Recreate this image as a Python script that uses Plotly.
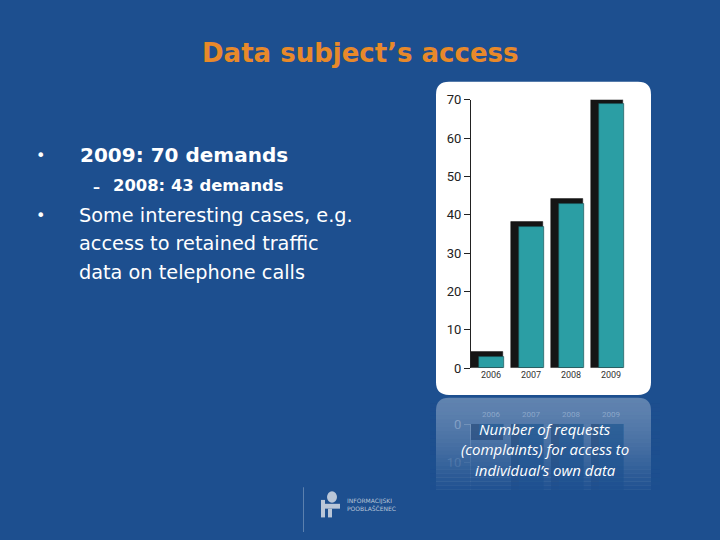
import plotly.graph_objects as go

# ---------------- data ----------------
years = ["2006", "2007", "2008", "2009"]
requests = [3, 37, 43, 69]
y_ticks = [0, 10, 20, 30, 40, 50, 60, 70]
refl_ticks = [0, 10, 20]

title_text = "Data subject’s access"
bullet_main = "2009: 70 demands"
bullet_sub = "2008: 43 demands"
bullet_2 = ["Some interesting cases, e.g.",
            "access to retained traffic",
            "data on telephone calls"]
caption_lines = ["Number of requests",
                 "(complaints) for access to",
                 "individual’s own data"]
logo_lines = ["INFORMACIJSKI", "POOBLAŠČENEC"]

# ---------------- helpers ----------------
W, H = 720, 540
BG = "#1d4f8f"
TEAL = "#2b9ea4"
DEPTH = 1.3


def px(x):
    return x / W


def py(y):
    return 1 - y / H


def rounded_path(x0, y0, x1, y1, r, top=True, bottom=True):
    X0, X1 = px(x0), px(x1)
    Y0, Y1 = py(y0), py(y1)
    rx, ry = r / W, r / H
    p = []
    if top:
        p.append(f"M {X0+rx},{Y0} L {X1-rx},{Y0} Q {X1},{Y0} {X1},{Y0-ry}")
    else:
        p.append(f"M {X0},{Y0} L {X1},{Y0}")
    if bottom:
        p.append(f"L {X1},{Y1+ry} Q {X1},{Y1} {X1-rx},{Y1} L {X0+rx},{Y1} Q {X0},{Y1} {X0},{Y1+ry}")
    else:
        p.append(f"L {X1},{Y1} L {X0},{Y1}")
    if top:
        p.append(f"L {X0},{Y0-ry} Q {X0},{Y0} {X0+rx},{Y0} Z")
    else:
        p.append("Z")
    return " ".join(p)


fig = go.Figure()

side_vals = [v + DEPTH for v in requests]

# main bars: dark side (depth) + teal front
fig.add_trace(go.Bar(x=years, y=side_vals, offset=-0.5, width=0.8,
                     marker=dict(color="#151515", line=dict(color="#111", width=0.5)),
                     cliponaxis=False, hoverinfo="skip", showlegend=False))
fig.add_trace(go.Bar(x=years, y=requests, offset=-0.29, width=0.62,
                     marker=dict(color=TEAL, line=dict(color="#1a4f52", width=0.6)),
                     cliponaxis=False, showlegend=False))

# reflection
fig.add_trace(go.Bar(x=years, y=side_vals, offset=-0.5, width=0.8, xaxis="x2", yaxis="y2",
                     marker=dict(color="#0f2f5a", line=dict(width=0)), opacity=0.45,
                     hoverinfo="skip", showlegend=False))
fig.add_trace(go.Bar(x=years, y=requests, offset=-0.29, width=0.62, xaxis="x2", yaxis="y2",
                     marker=dict(color="#2f69a3", line=dict(width=0)), opacity=0.7,
                     hoverinfo="skip", showlegend=False))

shapes = []
# white chart panel
shapes.append(dict(type="path", xref="paper", yref="paper", layer="below",
                   path=rounded_path(436, 77, 651, 399, 13),
                   fillcolor="white", line=dict(width=0)))
# reflected panel
shapes.append(dict(type="path", xref="paper", yref="paper", layer="below",
                   path=rounded_path(436, 402, 651, 540, 13, top=True, bottom=False),
                   fillcolor="rgba(255,255,255,0.30)", line=dict(width=0)))
# fade of the reflection
n = 24
y_start, y_end = 404, 500
for i in range(n):
    ya = y_start + (y_end - y_start) * i / n
    yb = y_start + (y_end - y_start) * (i + 1) / n
    op = ((i + 1) / n) ** 1.4
    shapes.append(dict(type="rect", xref="paper", yref="paper", layer="above",
                       x0=px(430), x1=px(660), y0=py(yb), y1=py(ya),
                       fillcolor=BG, opacity=op, line=dict(width=0)))
shapes.append(dict(type="rect", xref="paper", yref="paper", layer="above",
                   x0=px(430), x1=px(660), y0=0, y1=py(500),
                   fillcolor=BG, line=dict(width=0)))
# logo divider line
shapes.append(dict(type="line", xref="paper", yref="paper", layer="above",
                   x0=px(303.5), x1=px(303.5), y0=0, y1=py(494),
                   line=dict(color="rgba(255,255,255,0.28)", width=1)))
# logo icon
shapes.append(dict(type="circle", xref="paper", yref="paper", layer="above",
                   x0=px(327), x1=px(337), y0=py(510), y1=py(498),
                   fillcolor="#b9c6d8", line=dict(width=0)))
shapes.append(dict(type="rect", xref="paper", yref="paper", layer="above",
                   x0=px(321), x1=px(325), y0=py(525), y1=py(507),
                   fillcolor="#b9c6d8", line=dict(width=0)))
shapes.append(dict(type="rect", xref="paper", yref="paper", layer="above",
                   x0=px(325), x1=px(340), y0=py(516), y1=py(511),
                   fillcolor="#b9c6d8", line=dict(width=0)))
shapes.append(dict(type="rect", xref="paper", yref="paper", layer="above",
                   x0=px(328), x1=px(332), y0=py(525), y1=py(516),
                   fillcolor="#b9c6d8", line=dict(width=0)))

ann = []
ann.append(dict(text=f"<b>{title_text}</b>", x=px(360), y=py(47), xref="paper", yref="paper",
                xanchor="center", yanchor="middle", showarrow=False,
                font=dict(family="DejaVu Sans", size=26, color="#e8892a")))
TXT = dict(family="DejaVu Sans", color="white")
ann.append(dict(text="•", x=px(34), y=py(153), xref="paper", yref="paper", xanchor="left",
                yanchor="middle", showarrow=False, font=dict(size=16, **TXT)))
ann.append(dict(text=f"<b>{bullet_main}</b>", x=px(78), y=py(152), xref="paper", yref="paper",
                xanchor="left", yanchor="middle", showarrow=False, font=dict(size=20, **TXT)))
ann.append(dict(text="<b>–</b>", x=px(91), y=py(185), xref="paper", yref="paper", xanchor="left",
                yanchor="middle", showarrow=False, font=dict(size=14, **TXT)))
ann.append(dict(text=f"<b>{bullet_sub}</b>", x=px(111), y=py(184), xref="paper", yref="paper",
                xanchor="left", yanchor="middle", showarrow=False, font=dict(size=16.4, **TXT)))
ann.append(dict(text="•", x=px(34), y=py(214), xref="paper", yref="paper", xanchor="left",
                yanchor="middle", showarrow=False, font=dict(size=16, **TXT)))
for i, line in enumerate(bullet_2):
    ann.append(dict(text=line, x=px(77), y=py(214 + 29.5 * i), xref="paper", yref="paper",
                    xanchor="left", yanchor="middle", showarrow=False,
                    font=dict(size=19.3, **TXT)))
for i, line in enumerate(caption_lines):
    ann.append(dict(text=f"<i>{line}</i>", x=px(545), y=py(434 + 21 * i), xref="paper",
                    yref="paper", xanchor="center", yanchor="middle", showarrow=False,
                    borderpad=0,
                    font=dict(family="Open Sans", size=15, color="white")))
ann.append(dict(text="<br>".join(logo_lines), x=px(345), y=py(512), xref="paper", yref="paper",
                xanchor="left", yanchor="middle", showarrow=False, align="left",
                font=dict(family="DejaVu Sans", size=6, color="#b9c6d8")))

fig.update_layout(
    width=W, height=H,
    margin=dict(l=0, r=0, t=0, b=0),
    paper_bgcolor=BG, plot_bgcolor="rgba(0,0,0,0)",
    barmode="overlay", bargap=0, showlegend=False,
    shapes=shapes, annotations=ann,
    xaxis=dict(domain=[px(471), px(631)], anchor="y", showgrid=False, zeroline=False,
               showline=False, ticks="", tickfont=dict(family="Liberation Sans Narrow, Roboto",
                                                      size=9, color="#333"),
               fixedrange=True),
    yaxis=dict(domain=[py(371.5), py(95.5)], range=[0, 70], anchor="x", tickvals=y_ticks,
               showgrid=False, zeroline=False, showline=True, linecolor="#222", linewidth=1,
               ticks="outside", ticklen=6, tickcolor="#222",
               tickfont=dict(family="Liberation Sans Narrow, Roboto", size=13, color="#222"),
               fixedrange=True),
    xaxis2=dict(domain=[px(471), px(631)], anchor="y2", side="top", showgrid=False,
                zeroline=False, showline=False, ticks="", ticklabelstandoff=4,
                tickfont=dict(family="Liberation Sans Narrow, Roboto", size=8,
                              color="rgba(200,215,235,0.55)")),
    yaxis2=dict(domain=[0, py(429)], range=[28.2, 0], anchor="x2", tickvals=refl_ticks,
                showgrid=False, zeroline=False, showline=True,
                linecolor="rgba(200,215,235,0.35)", ticks="outside", ticklen=6,
                tickcolor="rgba(200,215,235,0.35)",
                tickfont=dict(family="Liberation Sans Narrow, Roboto", size=13,
                              color="rgba(200,215,235,0.55)")),
)

fig.write_html("out.html")
